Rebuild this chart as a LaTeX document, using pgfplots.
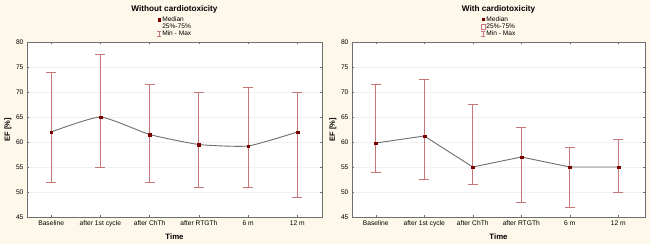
\documentclass[border=0pt]{standalone}
\usepackage{pgfplots}
\pgfplotsset{compat=1.18}
\usepackage{fontspec}
\setmainfont{Liberation Sans}
\definecolor{bgc}{RGB}{253,248,234}
\definecolor{errc}{RGB}{198,118,118}
\definecolor{medc}{RGB}{122,0,0}
\definecolor{linec}{RGB}{110,110,110}
\definecolor{axc}{RGB}{110,110,110}
\pgfplotsset{
  panel/.style={
    scale only axis, anchor=south west,
    height=175pt,
    xmin=-0.49, xmax=5.5, ymin=45, ymax=80,
    ytick={45,50,...,80},
    xtick={0,1,2,3,4,5},
    xticklabels={Baseline,after 1st cycle,after ChTh,after RTGTh,6 m,12 m},
    tick align=inside, major tick length=2pt,
    xtick pos=both, ytick pos=both,
    xticklabel pos=lower, yticklabel pos=left,
    tick style={axc, line width=0.5pt},
    axis line style={axc, line width=0.8pt},
    axis background/.style={fill=white},
    ymajorgrids, major grid style={gray!12, line width=0.4pt},
    tick label style={font=\fontsize{6.7}{7}\selectfont},
    /pgf/number format/assume math mode=true,
    every axis y label/.style={at={(axis description cs:0,0.5)}, rotate=90, anchor=center, yshift=19pt, font=\bfseries\fontsize{7.5}{8}\selectfont},
    every axis x label/.style={at={(axis description cs:0.5,0)}, anchor=center, yshift=-20pt, font=\bfseries\fontsize{7.8}{8}\selectfont},
    xlabel={Time}, ylabel={EF [\%]},
    every axis title/.style={at={(axis description cs:0.5,1)}, anchor=center, yshift=33pt, font=\bfseries\fontsize{8.2}{9}\selectfont},
    legend style={at={(0.5,1)}, anchor=south, yshift=4pt, draw=none, fill=none,
      font=\fontsize{6.6}{7}\selectfont, row sep=-0.6pt, inner sep=0pt,
      nodes={inner sep=0.8pt}},
    legend cell align=left,
  },
  errplot/.style={draw=none, mark=none, forget plot,
    error bars/.cd, y dir=both, y explicit,
    error bar style={errc, line width=0.9pt},
    error mark options={errc, line width=0.9pt, mark size=5pt, rotate=90}},
  medplot/.style={linec, line width=0.9pt, mark=square*, mark size=1.4pt,
    mark options={medc, fill=medc, line width=0.2pt}},
}
\begin{document}
\begin{tikzpicture}
\fill[bgc] (0,0) rectangle (650pt,244pt);
\useasboundingbox (0,0) rectangle (650pt,244pt);
% ---------- left panel ----------
\begin{axis}[panel, at={(27pt,27pt)}, width=295pt, title={Without cardiotoxicity}]
\addlegendimage{legend image code/.code={\fill[medc] (0.05cm-1.3pt,-1.3pt) rectangle ++(2.6pt,2.6pt);}}
\addlegendentry{Median}
\addlegendimage{legend image code/.code={\draw[draw=none] (0.05cm-2.2pt,-2.6pt) rectangle ++(4.4pt,5.2pt);}}
\addlegendentry{25\%-75\%}
\addlegendimage{legend image code/.code={\draw[errc, line width=0.5pt] (0.05cm,-2.6pt)--(0.05cm,2.6pt) (0.05cm-2pt,-2.6pt)--(0.05cm+2pt,-2.6pt) (0.05cm-2pt,2.6pt)--(0.05cm+2pt,2.6pt);}}
\addlegendentry{Min - Max}
\addplot[errplot] table[x=x, y=y, y error plus=ep, y error minus=em] {
x y ep em
0 62 12 10
1 65 12.5 10
2 61.5 10 9.5
3 59.5 10.5 8.5
4 59.2 11.8 8.2
5 62 8 13
};
\addplot[medplot, smooth, tension=0.3, forget plot] coordinates {
(0,62) (1,65) (2,61.5) (3,59.5) (4,59.2) (5,62)
};
\end{axis}
% ---------- right panel ----------
\begin{axis}[panel, at={(352pt,27pt)}, width=293pt, xmax=5.55, title={With cardiotoxicity}]
\addlegendimage{legend image code/.code={\fill[medc] (0.05cm-1.1pt,-1.1pt) rectangle ++(2.2pt,2.2pt);}}
\addlegendentry{Median}
\addlegendimage{legend image code/.code={\draw[errc, fill=white, line width=0.5pt] (0.05cm-2.2pt,-2.6pt) rectangle ++(4.4pt,5.2pt);}}
\addlegendentry{25\%-75\%}
\addlegendimage{legend image code/.code={\draw[errc, line width=0.5pt] (0.05cm,-2.6pt)--(0.05cm,2.6pt) (0.05cm-2pt,-2.6pt)--(0.05cm+2pt,-2.6pt) (0.05cm-2pt,2.6pt)--(0.05cm+2pt,2.6pt);}}
\addlegendentry{Min - Max}
\addplot[errplot] table[x=x, y=y, y error plus=ep, y error minus=em] {
x y ep em
0 59.8 11.7 5.8
1 61.2 11.3 8.7
2 55 12.5 3.5
3 57 6 9
4 55 4 8
5 55 5.5 5
};
\addplot[medplot, forget plot] coordinates {
(0,59.8) (1,61.2) (2,55) (3,57) (4,55) (5,55)
};
\end{axis}
\end{tikzpicture}
\end{document}
